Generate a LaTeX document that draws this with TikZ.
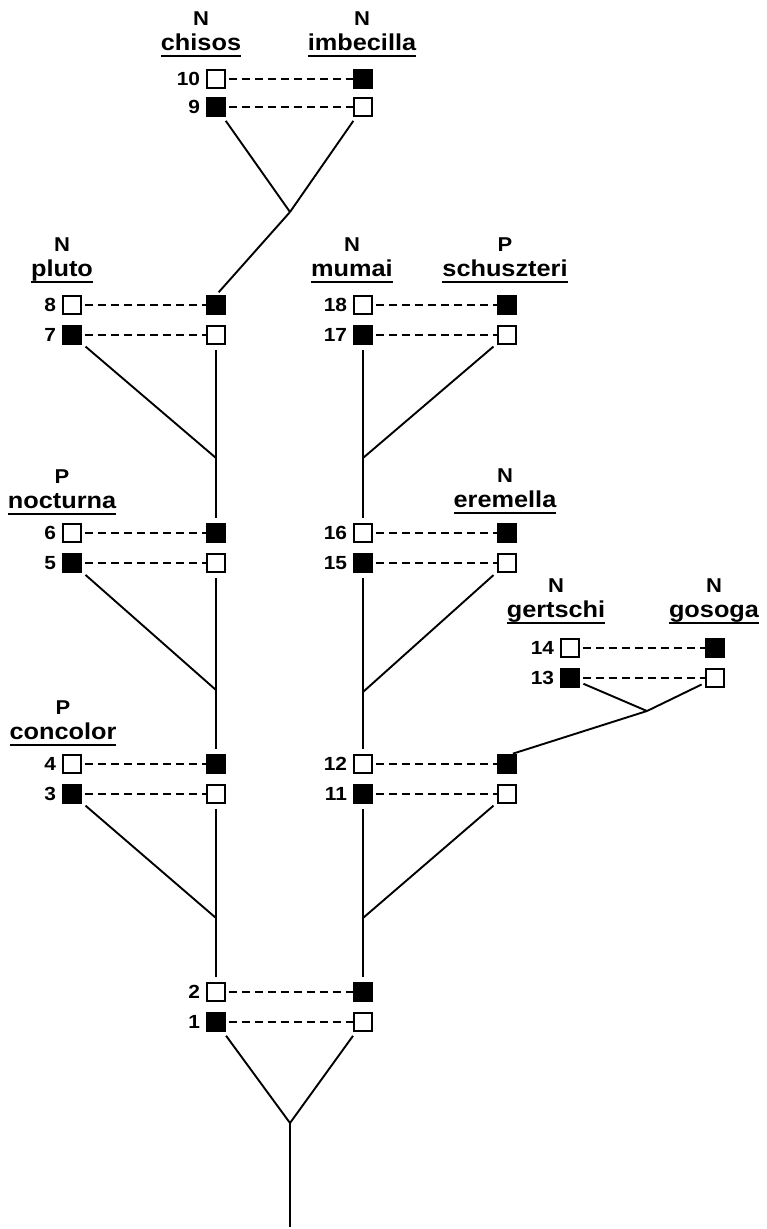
\documentclass[tikz,border=0pt]{standalone}
\usepackage{fontspec}
\newfontfamily\lblfont{Liberation Sans}[FakeStretch=1.1]
\newfontfamily\numfont{Liberation Sans}[FakeStretch=1.1]
\newsavebox\spbox
\newcommand{\spname}[1]{\sbox\spbox{#1}\rlap{\rule[-7pt]{\wd\spbox}{1.9pt}}\usebox\spbox}

\tikzset{
  hollowbox/.style={draw, line width=1.5pt, fill=white, minimum size=18pt, inner sep=0pt},
  blackbox/.style={hollowbox, fill=black},
  numlbl/.style={font=\numfont\bfseries\fontsize{19}{21}\selectfont, inner sep=0pt},
  species/.style={font=\lblfont\bfseries\fontsize{23}{25}\selectfont, inner sep=0pt, anchor=base},
  status/.style={font=\lblfont\bfseries\fontsize{20}{22}\selectfont, inner sep=0pt, anchor=base},
  pairline/.style={line width=1.5pt, dash pattern=on 8pt off 5pt, shorten <=3pt},
  link/.style={line width=1.9pt, shorten <=5pt},
  stem/.style={link, shorten >=5pt}
}

\begin{document}
\begin{tikzpicture}[x=1pt, y=-1pt, label distance=6pt]
    \useasboundingbox (0,0) rectangle (766,1229);

    % species names
    \node[species] (chisos) at (201,50) {\spname{chisos}};
    \node[status] (chisosN) at ([yshift=25pt]chisos.base) {N};
    \node[species] (imbecilla) at (362,50) {\spname{imbecilla}};
    \node[status] (imbecillaN) at ([yshift=25pt]imbecilla.base) {N};
    \node[species] (pluto) at (62,276) {\spname{pluto}};
    \node[status] (plutoN) at ([yshift=25pt]pluto.base) {N};
    \node[species] (mumai) at (352,276) {\spname{mumai}};
    \node[status] (mumaiN) at ([yshift=25pt]mumai.base) {N};
    \node[species] (schuszteri) at (505,276) {\spname{schuszteri}};
    \node[status] (schuszteriP) at ([yshift=25pt]schuszteri.base) {P};
    \node[species] (nocturna) at (62,508) {\spname{nocturna}};
    \node[status] (nocturnaP) at ([yshift=25pt]nocturna.base) {P};
    \node[species] (eremella) at (505,507) {\spname{eremella}};
    \node[status] (eremellaN) at ([yshift=25pt]eremella.base) {N};
    \node[species] (gertschi) at (556,617) {\spname{gertschi}};
    \node[status] (gertschiN) at ([yshift=25pt]gertschi.base) {N};
    \node[species] (gosoga) at (714,617) {\spname{gosoga}};
    \node[status] (gosogaN) at ([yshift=25pt]gosoga.base) {N};
    \node[species] (concolor) at (63,739) {\spname{concolor}};
    \node[status] (concolorP) at ([yshift=25pt]concolor.base) {P};

    % chromosome pairs
    \node[hollowbox, label={[numlbl]left:10}] (10) at (216,79) {};
    \node[blackbox] (10r) at (363,79) {};
    \node[blackbox, label={[numlbl]left:9}] (9) at (216,107) {};
    \node[hollowbox] (9r) at (363,107) {};

    \node[hollowbox, label={[numlbl]left:8}] (8) at (72,305) {};
    \node[blackbox] (8r) at (216,305) {};
    \node[blackbox, label={[numlbl]left:7}] (7) at (72,335) {};
    \node[hollowbox] (7r) at (216,335) {};

    \node[hollowbox, label={[numlbl]left:18}] (18) at (363,305) {};
    \node[blackbox] (18r) at (507,305) {};
    \node[blackbox, label={[numlbl]left:17}] (17) at (363,335) {};
    \node[hollowbox] (17r) at (507,335) {};

    \node[hollowbox, label={[numlbl]left:6}] (6) at (72,533) {};
    \node[blackbox] (6r) at (216,533) {};
    \node[blackbox, label={[numlbl]left:5}] (5) at (72,563) {};
    \node[hollowbox] (5r) at (216,563) {};

    \node[hollowbox, label={[numlbl]left:16}] (16) at (363,533) {};
    \node[blackbox] (16r) at (507,533) {};
    \node[blackbox, label={[numlbl]left:15}] (15) at (363,563) {};
    \node[hollowbox] (15r) at (507,563) {};

    \node[hollowbox, label={[numlbl]left:14}] (14) at (570,648) {};
    \node[blackbox] (14r) at (715,648) {};
    \node[blackbox, label={[numlbl]left:13}] (13) at (570,678) {};
    \node[hollowbox] (13r) at (715,678) {};

    \node[hollowbox, label={[numlbl]left:4}] (4) at (72,764) {};
    \node[blackbox] (4r) at (216,764) {};
    \node[blackbox, label={[numlbl]left:3}] (3) at (72,794) {};
    \node[hollowbox] (3r) at (216,794) {};

    \node[hollowbox, label={[numlbl]left:12}] (12) at (363,764) {};
    \node[blackbox] (12r) at (507,764) {};
    \node[blackbox, label={[numlbl]left:11}] (11) at (363,794) {};
    \node[hollowbox] (11r) at (507,794) {};

    \node[hollowbox, label={[numlbl]left:2}] (2) at (216,992) {};
    \node[blackbox] (2r) at (363,992) {};
    \node[blackbox, label={[numlbl]left:1}] (1) at (216,1022) {};
    \node[hollowbox] (1r) at (363,1022) {};

    \foreach \n in {10,9,8,7,18,17,6,5,16,15,14,13,4,3,12,11,2,1}
        \draw[pairline] (\n) -- (\n r);

    % branch points
    \coordinate (j1) at (290,212);
    \coordinate (j2) at (216,458);
    \coordinate (j3) at (363,458);
    \coordinate (j4) at (216,690);
    \coordinate (j5) at (363,692);
    \coordinate (j6) at (647,711);
    \coordinate (j7) at (216,918);
    \coordinate (j8) at (363,918);
    \coordinate (j9) at (290,1123);
    \coordinate (root) at (290,1227);

    \draw[link] (9) -- (j1);
    \draw[link] (9r) -- (j1);
    \draw[link, shorten <=4pt] (8r.north) -- (j1);

    \draw[link] (7) -- (j2);
    \draw[stem] (7r) -- (6r);
    \draw[stem] (17) -- (16);
    \draw[link] (17r) -- (j3);

    \draw[link] (5) -- (j4);
    \draw[stem] (5r) -- (4r);
    \draw[stem] (15) -- (12);
    \draw[link] (15r) -- (j5);

    \draw[link, shorten <=4pt] (13) -- (j6);
    \draw[link, shorten <=4pt] (13r) -- (j6);
    \draw[link, shorten <=2pt] ([xshift=4pt]12r.north) -- (j6);

    \draw[link] (3) -- (j7);
    \draw[stem] (3r) -- (2);
    \draw[stem] (11) -- (2r);
    \draw[link] (11r) -- (j8);

    \draw[link] (1) -- (j9);
    \draw[link] (1r) -- (j9);
    \draw[line width=1.9pt] (j9) -- (root);

\end{tikzpicture}
\end{document}
